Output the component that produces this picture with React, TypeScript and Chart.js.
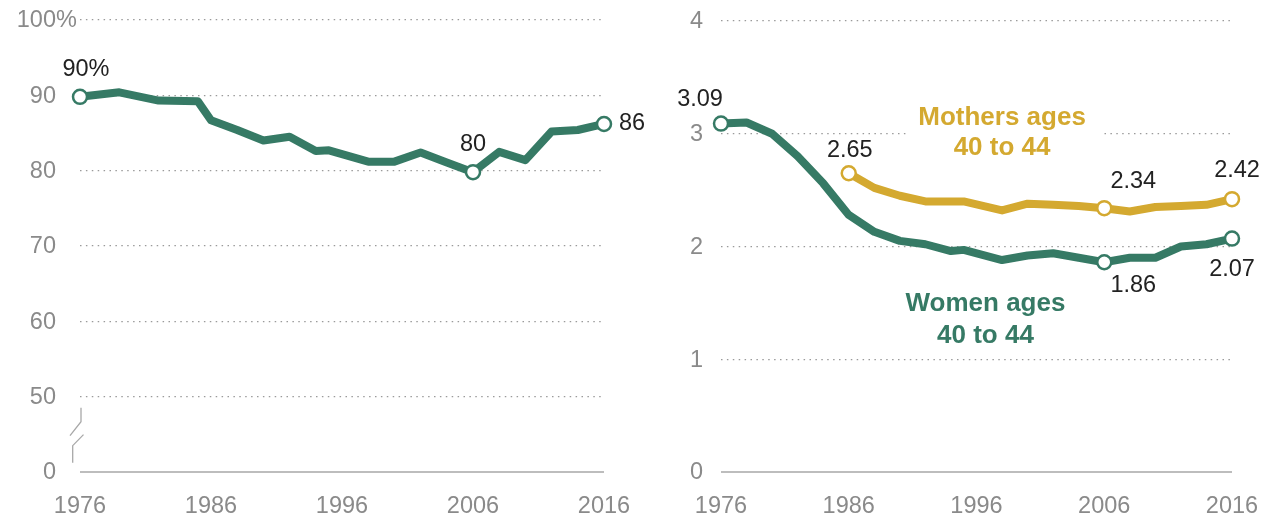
import React, { useEffect, useRef } from "react";
import { Chart, registerables } from "chart.js";

Chart.register(...registerables);

// ---------- Data ----------
const shareYears = [1976, 1979, 1982, 1985, 1986, 1988, 1990, 1992, 1994, 1995, 1998, 2000, 2002, 2004, 2006, 2008, 2010, 2012, 2014, 2016];
const shareMothers = [89.8, 90.4, 89.3, 89.2, 86.7, 85.4, 84.0, 84.5, 82.6, 82.7, 81.2, 81.2, 82.4, 81.1, 79.8, 82.5, 81.4, 85.2, 85.4, 86.2];

const womenYears = [1976, 1978, 1980, 1982, 1984, 1986, 1988, 1990, 1992, 1994, 1995, 1998, 2000, 2002, 2004, 2006, 2008, 2010, 2012, 2014, 2016];
const womenBirths = [3.09, 3.1, 3.0, 2.8, 2.56, 2.28, 2.13, 2.05, 2.02, 1.96, 1.97, 1.88, 1.92, 1.94, 1.9, 1.86, 1.9, 1.9, 2.0, 2.02, 2.07];

const motherYears = [1986, 1988, 1990, 1992, 1994, 1995, 1998, 2000, 2002, 2004, 2006, 2008, 2010, 2012, 2014, 2016];
const motherBirths = [2.65, 2.52, 2.45, 2.4, 2.4, 2.4, 2.32, 2.38, 2.37, 2.36, 2.34, 2.31, 2.35, 2.36, 2.37, 2.42];

const xTickYears = [1976, 1986, 1996, 2006, 2016];
const shareTicks = [40, 50, 60, 70, 80, 90, 100]; // 40 is drawn as "0" (broken axis)
const birthTicks = [0, 1, 2, 3, 4];

const seriesNames = ["Women ages 40 to 44", "Mothers ages 40 to 44"];

// ---------- Styles ----------
const GREEN = "#367a65";
const GOLD = "#d4a930";
const GRAY = "#8a8a8a";
const TEXT = "#222222";
const FONT = "'Liberation Sans', Arial, sans-serif";
const TICK_SIZE = 23.5;
const LABEL_SIZE = 23.5;

const toPts = (xs: number[], ys: number[]) => xs.map((x, i) => ({ x, y: ys[i] }));

const lineDataset = (label: string, data: any[], color: string, marked: number[]) => ({
  label,
  data,
  borderColor: color,
  borderWidth: 8,
  borderJoinStyle: "round" as const,
  borderCapStyle: "round" as const,
  tension: 0,
  clip: false as any,
  pointRadius: (ctx: any) => (marked.includes(ctx.dataIndex) ? 7 : 0),
  pointBackgroundColor: "#ffffff",
  pointBorderColor: color,
  pointBorderWidth: 2.5,
});

const gridFor = (min: number) => ({
  grid: {
    drawTicks: false,
    color: (ctx: any) => (ctx.tick && ctx.tick.value === min ? "#bdbdbd" : "#9a9a9a"),
    lineWidth: (ctx: any) => (ctx.tick && ctx.tick.value === min ? 2 : 1.3),
  },
  border: {
    display: false,
    dash: (ctx: any) => (ctx.tick && ctx.tick.value === min ? [] : [1.5, 4.4]),
  },
});

const xAxis = (min: number, max: number) => ({
  type: "linear" as const,
  min,
  max,
  grid: { display: false, drawTicks: false },
  border: { display: false },
  afterBuildTicks: (s: any) => {
    s.ticks = xTickYears.map((v) => ({ value: v }));
  },
  afterFit: (s: any) => {
    s.height = 45;
    s.paddingLeft = 0;
    s.paddingRight = 0;
  },
  ticks: {
    padding: 20,
    color: GRAY,
    font: { family: FONT, size: TICK_SIZE },
    maxRotation: 0,
    autoSkip: false,
    callback: (v: any) => String(v),
  },
});

function drawYLabels(chart: any, rightX: number, fmt: (v: number) => string, pctAt?: number) {
  const ctx = chart.ctx;
  const ys = chart.scales.y;
  ctx.save();
  ctx.font = `${TICK_SIZE}px ${FONT}`;
  ctx.fillStyle = GRAY;
  ctx.textBaseline = "middle";
  ys.ticks.forEach((t: any) => {
    const py = ys.getPixelForValue(t.value) + 1;
    ctx.textAlign = "right";
    ctx.fillText(fmt(t.value), rightX, py);
    if (pctAt !== undefined && t.value === pctAt) {
      ctx.textAlign = "left";
      ctx.fillText("%", rightX, py);
    }
  });
  ctx.restore();
}

function drawValueLabels(chart: any, specs: any[]) {
  const ctx = chart.ctx;
  ctx.save();
  ctx.font = `${LABEL_SIZE}px ${FONT}`;
  ctx.fillStyle = TEXT;
  ctx.textBaseline = "middle";
  specs.forEach((s) => {
    const el = chart.getDatasetMeta(s.ds).data[s.i];
    const raw = chart.data.datasets[s.ds].data[s.i].y;
    ctx.textAlign = s.align || "center";
    ctx.fillText(s.fmt(raw), el.x + s.dx, el.y + s.dy);
  });
  ctx.restore();
}

export default function App() {
  const leftRef = useRef<HTMLCanvasElement>(null);
  const rightRef = useRef<HTMLCanvasElement>(null);

  useEffect(() => {
    const lastS = shareMothers.length - 1;
    const minS = shareMothers.indexOf(Math.min(...shareMothers));

    const left = new Chart(leftRef.current!, {
      type: "line",
      data: {
        datasets: [lineDataset("Share of women ages 40 to 44 who are mothers", toPts(shareYears, shareMothers), GREEN, [0, minS, lastS])],
      },
      options: {
        responsive: false,
        animation: false,
        events: [],
        layout: { padding: { top: 20, right: 76, left: 0, bottom: 0 } },
        plugins: { legend: { display: false }, tooltip: { enabled: false } },
        scales: {
          x: xAxis(1976, 2016),
          y: {
            type: "linear",
            min: 40,
            max: 100,
            afterBuildTicks: (s: any) => {
              s.ticks = shareTicks.map((v) => ({ value: v }));
            },
            afterFit: (s: any) => {
              s.width = 80;
            },
            ticks: { display: false },
            ...gridFor(40),
          },
        },
      },
      plugins: [
        {
          id: "leftDecor",
          afterDatasetsDraw(chart: any) {
            drawYLabels(chart, 56, (v) => (v === 40 ? "0" : String(v)), 100);
            // axis break marks
            const ctx = chart.ctx;
            const ys = chart.scales.y;
            const y50 = ys.getPixelForValue(50);
            ctx.save();
            ctx.strokeStyle = "#a8a8a8";
            ctx.lineWidth = 1.3;
            ctx.beginPath();
            ctx.moveTo(81, y50 + 11);
            ctx.lineTo(81, y50 + 25);
            ctx.lineTo(70, y50 + 39);
            ctx.moveTo(83.5, y50 + 38);
            ctx.lineTo(72.7, y50 + 49);
            ctx.lineTo(72.7, y50 + 66);
            ctx.stroke();
            ctx.restore();
            drawValueLabels(chart, [
              { ds: 0, i: 0, dx: 6, dy: -27, fmt: (v: number) => Math.round(v) + "%" },
              { ds: 0, i: minS, dx: 0, dy: -28, fmt: (v: number) => String(Math.round(v)) },
              { ds: 0, i: lastS, dx: 15, dy: 0, align: "left", fmt: (v: number) => String(Math.round(v)) },
            ]);
          },
        },
      ],
    } as any);

    const i2006w = womenYears.indexOf(2006);
    const i2006m = motherYears.indexOf(2006);
    const right = new Chart(rightRef.current!, {
      type: "line",
      data: {
        datasets: [
          lineDataset(seriesNames[0], toPts(womenYears, womenBirths), GREEN, [0, i2006w, womenYears.length - 1]),
          lineDataset(seriesNames[1], toPts(motherYears, motherBirths), GOLD, [0, i2006m, motherYears.length - 1]),
        ],
      },
      options: {
        responsive: false,
        animation: false,
        events: [],
        layout: { padding: { top: 21, right: 36, left: 0, bottom: 0 } },
        plugins: { legend: { display: false }, tooltip: { enabled: false } },
        scales: {
          x: xAxis(1976, 2016),
          y: {
            type: "linear",
            min: 0,
            max: 4,
            afterBuildTicks: (s: any) => {
              s.ticks = birthTicks.map((v) => ({ value: v }));
            },
            afterFit: (s: any) => {
              s.width = 81;
            },
            ticks: { display: false },
            ...gridFor(0),
          },
        },
      },
      plugins: [
        {
          id: "rightDecor",
          afterDatasetsDraw(chart: any) {
            drawYLabels(chart, 63, (v) => String(v));
            const ctx = chart.ctx;
            const xs = chart.scales.x;
            const ys = chart.scales.y;
            drawValueLabels(chart, [
              { ds: 0, i: 0, dx: -21, dy: -24, fmt: (v: number) => v.toFixed(2) },
              { ds: 0, i: i2006w, dx: 29, dy: 23, fmt: (v: number) => v.toFixed(2) },
              { ds: 0, i: womenYears.length - 1, dx: 0, dy: 31, fmt: (v: number) => v.toFixed(2) },
              { ds: 1, i: 0, dx: 1, dy: -23, fmt: (v: number) => v.toFixed(2) },
              { ds: 1, i: i2006m, dx: 29, dy: -27, fmt: (v: number) => v.toFixed(2) },
              { ds: 1, i: motherYears.length - 1, dx: 5, dy: -29, fmt: (v: number) => v.toFixed(2) },
            ]);
            // series annotations
            ctx.save();
            ctx.font = `bold 26px ${FONT}`;
            ctx.textAlign = "center";
            ctx.textBaseline = "alphabetic";
            const mx = xs.getPixelForValue(1998);
            const my = ys.getPixelForValue(3.08);
            ctx.fillStyle = "#ffffff";
            ctx.fillRect(mx - 94, my - 24, 194, 60);
            ctx.fillStyle = GOLD;
            ctx.fillText("Mothers ages", mx, my);
            ctx.fillText("40 to 44", mx, my + 30);
            const wx = xs.getPixelForValue(1996.7);
            const wy = ys.getPixelForValue(1.43);
            ctx.fillStyle = GREEN;
            ctx.fillText("Women ages", wx, wy);
            ctx.fillText("40 to 44", wx, wy + 32);
            ctx.restore();
          },
        },
      ],
    } as any);

    return () => {
      left.destroy();
      right.destroy();
    };
  }, []);

  return (
    <div style={{ position: "absolute", left: 0, top: 0, width: 1268, height: 517, background: "#ffffff" }}>
      <canvas ref={leftRef} width={680} height={517} style={{ position: "absolute", left: 0, top: 0, width: 680, height: 517 }} />
      <canvas ref={rightRef} width={628} height={517} style={{ position: "absolute", left: 640, top: 0, width: 628, height: 517 }} />
    </div>
  );
}
